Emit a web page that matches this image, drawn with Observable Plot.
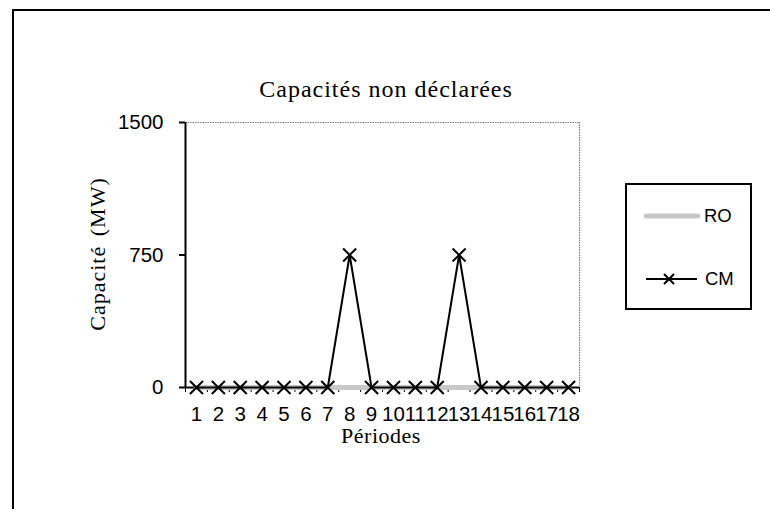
<!DOCTYPE html>
<html>
<head>
<meta charset="utf-8">
<script src="https://cdn.jsdelivr.net/npm/d3@7"></script>
<script src="https://cdn.jsdelivr.net/npm/@observablehq/plot@0.6"></script>
<style>
  html, body { margin: 0; padding: 0; background: #fff; overflow: hidden; }
  #wrap { position: relative; width: 770px; height: 509px; overflow: hidden; }
  #frame { position: absolute; left: 12px; top: 9px; width: 800px; height: 560px; border: 2px solid #000; box-sizing: border-box; }
  #chart { position: absolute; left: 0; top: 0; }
  #overlay { position: absolute; left: 0; top: 0; }
</style>
</head>
<body>
<div id="wrap">
  <div id="frame"></div>
  <div id="chart"></div>
  <svg id="overlay" width="770" height="509"></svg>
</div>
<script>
const periods = [1, 2, 3, 4, 5, 6, 7, 8, 9, 10, 11, 12, 13, 14, 15, 16, 17, 18];
const ro = [0, 0, 0, 0, 0, 0, 0, 0, 0, 0, 0, 0, 0, 0, 0, 0, 0, 0];
const cm = [0, 0, 0, 0, 0, 0, 0, 750, 0, 0, 0, 0, 750, 0, 0, 0, 0, 0];
const yTicks = [0, 750, 1500];
const title = "Capacités non déclarées";
const yTitle = "Capacité (MW)";
const xTitle = "Périodes";
const seriesNames = ["RO", "CM"];

const roRows = periods.map((p, i) => ({period: p, value: ro[i]}));
const cmRows = periods.map((p, i) => ({period: p, value: cm[i]}));
const boundaries = [0.5].concat(periods.map(p => p + 0.5));

const plot = Plot.plot({
  width: 770,
  height: 509,
  marginLeft: 185,
  marginRight: 191,
  marginTop: 122,
  marginBottom: 122,
  style: {background: "transparent", fontFamily: "'Liberation Sans', Arial, sans-serif"},
  x: {type: "linear", domain: [0.5, 18.5]},
  y: {domain: [0, 1500]},
  marks: [
    Plot.ruleY([1500], {stroke: "#808080", strokeWidth: 1.2, strokeDasharray: "1.5,1"}),
    Plot.ruleX([18.5], {stroke: "#808080", strokeWidth: 1.2, strokeDasharray: "1.5,1"}),
    Plot.axisX({ticks: boundaries, tickSize: 5, tickFormat: () => "", stroke: "#000", strokeWidth: 1, label: null}),
    Plot.axisX({ticks: periods, tickSize: 0, tickPadding: 19, fontSize: 20.5, fill: "#000", label: null, tickFormat: d => String(d)}),
    Plot.axisY({ticks: yTicks, tickSize: 6, tickPadding: 16, fontSize: 20.5, fill: "#000", stroke: "#000", strokeWidth: 2, label: null, tickFormat: d => String(d)}),
    Plot.ruleX([0.5], {stroke: "#000", strokeWidth: 2}),
    Plot.ruleY([0], {stroke: "#000", strokeWidth: 2}),
    Plot.line(roRows, {x: "period", y: "value", stroke: "#c8c8c8", strokeWidth: 5}),
    Plot.line(cmRows, {x: "period", y: "value", stroke: "#000", strokeWidth: 2}),
    Plot.dot(cmRows, {x: "period", y: "value", symbol: "times", r: 6, stroke: "#000", strokeWidth: 2})
  ]
});
document.getElementById("chart").appendChild(plot);

// Titles and legend (text)
const ov = d3.select("#overlay");
const serif = "'Liberation Serif', 'Times New Roman', serif";
const sans = "'Liberation Sans', Arial, sans-serif";
ov.append("text").attr("x", 386).attr("y", 97).attr("text-anchor", "middle").attr("fill", "#000")
  .attr("font-family", serif).attr("font-size", 24).attr("letter-spacing", 1).text(title);
ov.append("text").attr("transform", "translate(105,254) rotate(-90)").attr("text-anchor", "middle").attr("fill", "#000")
  .attr("font-family", serif).attr("font-size", 22).attr("letter-spacing", 1).attr("word-spacing", 3).text(yTitle);
ov.append("text").attr("x", 381).attr("y", 443).attr("text-anchor", "middle").attr("fill", "#000")
  .attr("font-family", serif).attr("font-size", 22).attr("letter-spacing", 0.5).text(xTitle);

// legend
ov.append("rect").attr("x", 626).attr("y", 184).attr("width", 125).attr("height", 125)
  .attr("fill", "#fff").attr("stroke", "#000").attr("stroke-width", 2);
ov.append("line").attr("x1", 646).attr("x2", 698).attr("y1", 216).attr("y2", 216)
  .attr("stroke", "#c8c8c8").attr("stroke-width", 5).attr("stroke-linecap", "round");
ov.append("text").attr("x", 704).attr("y", 216).attr("dy", "0.35em").attr("fill", "#000")
  .attr("font-family", sans).attr("font-size", 18.5).text(seriesNames[0]);
ov.append("line").attr("x1", 646).attr("x2", 697).attr("y1", 279).attr("y2", 279)
  .attr("stroke", "#000").attr("stroke-width", 2);
ov.append("path").attr("d", "M664,274L674,284M674,274L664,284")
  .attr("stroke", "#000").attr("stroke-width", 2);
ov.append("text").attr("x", 705).attr("y", 279).attr("dy", "0.35em").attr("fill", "#000")
  .attr("font-family", sans).attr("font-size", 18.5).text(seriesNames[1]);
</script>
</body>
</html>
